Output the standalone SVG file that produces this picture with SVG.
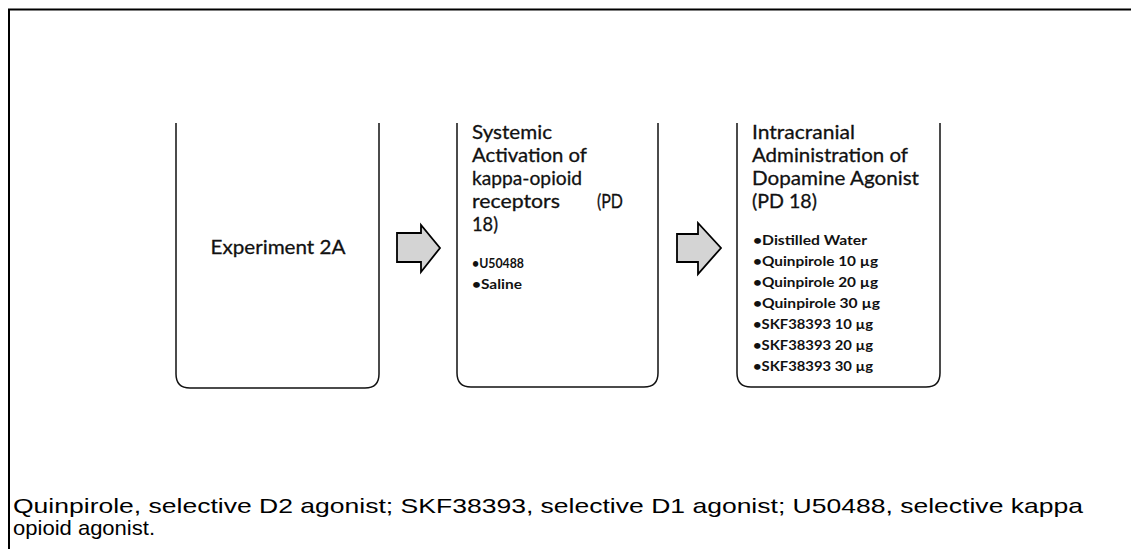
<svg xmlns="http://www.w3.org/2000/svg" width="1131" height="549" viewBox="0 0 1131 549">
<style>
.frame{fill:none;stroke:#000;stroke-width:2}
.box{fill:none;stroke:#111;stroke-width:1.5}
.title{font-family:Lato,"Open Sans",sans-serif;font-size:20px;fill:#111;stroke:#111;stroke-width:0.3}
.item{font-family:Lato,"Open Sans",sans-serif;font-size:13.5px;font-weight:bold;fill:#111}
.arrow{fill:#d4d4d4;stroke:#000;stroke-width:1.8;stroke-linejoin:miter}
.caption{font-family:"Liberation Sans",Arial,sans-serif;font-size:21px;fill:#000}
</style>
<rect width="1131" height="549" fill="#fff"/>
<g id="frame">
<path class="frame" d="M9,549 V9.5 H1131"/>
</g>
<g id="node-exp2a">
<path class="box" d="M176,123 V374 Q176,388 190,388 H365 Q379,388 379,374 V123"/>
<text class="title" x="278" y="254" text-anchor="middle" textLength="135" lengthAdjust="spacingAndGlyphs">Experiment 2A</text>
</g>
<g id="node-systemic">
<path class="box" d="M457,123 V373 Q457,387 471,387 H644 Q658,387 658,373 V123"/>
<text class="title" x="472" y="139" textLength="80" lengthAdjust="spacingAndGlyphs">Systemic</text>
<text class="title" x="472" y="162" textLength="115" lengthAdjust="spacingAndGlyphs">Activation of</text>
<text class="title" x="472" y="185" textLength="110" lengthAdjust="spacingAndGlyphs">kappa-opioid</text>
<text class="title" x="472" y="208" textLength="88" lengthAdjust="spacingAndGlyphs">receptors</text>
<text class="title" x="597" y="208" textLength="26" lengthAdjust="spacingAndGlyphs">(PD</text>
<text class="title" x="472" y="231" textLength="26" lengthAdjust="spacingAndGlyphs">18)</text>
<text class="item" x="472" y="268" textLength="52" lengthAdjust="spacingAndGlyphs">•U50488</text>
<text class="item" x="472" y="289" textLength="50" lengthAdjust="spacingAndGlyphs">•Saline</text>
</g>
<g id="node-intracranial">
<path class="box" d="M737,123 V373 Q737,387 751,387 H926 Q940,387 940,373 V123"/>
<text class="title" x="752" y="139" textLength="103" lengthAdjust="spacingAndGlyphs">Intracranial</text>
<text class="title" x="752" y="162" textLength="156" lengthAdjust="spacingAndGlyphs">Administration of</text>
<text class="title" x="752" y="185" textLength="167" lengthAdjust="spacingAndGlyphs">Dopamine Agonist</text>
<text class="title" x="752" y="208" textLength="65" lengthAdjust="spacingAndGlyphs">(PD 18)</text>
<text class="item" x="753" y="245" textLength="114" lengthAdjust="spacingAndGlyphs">•Distilled Water</text>
<text class="item" x="753" y="266" textLength="125" lengthAdjust="spacingAndGlyphs">•Quinpirole 10 µg</text>
<text class="item" x="753" y="287" textLength="125" lengthAdjust="spacingAndGlyphs">•Quinpirole 20 µg</text>
<text class="item" x="753" y="308" textLength="127" lengthAdjust="spacingAndGlyphs">•Quinpirole 30 µg</text>
<text class="item" x="753" y="329" textLength="120" lengthAdjust="spacingAndGlyphs">•SKF38393 10 µg</text>
<text class="item" x="753" y="350" textLength="120" lengthAdjust="spacingAndGlyphs">•SKF38393 20 µg</text>
<text class="item" x="753" y="371" textLength="120" lengthAdjust="spacingAndGlyphs">•SKF38393 30 µg</text>
</g>
<g id="connectors">
<path class="arrow" d="M397,233 H421 V225 L440,248 L421,272 V262 H397 Z"/>
<path class="arrow" d="M677,234 H698 V223 L721,248 L698,274 V262 H677 Z"/>
</g>
<g id="caption">
<text class="caption" x="13" y="513" textLength="1070" lengthAdjust="spacingAndGlyphs">Quinpirole, selective D2 agonist; SKF38393, selective D1 agonist; U50488, selective kappa</text>
<text class="caption" x="13" y="535" textLength="142" lengthAdjust="spacingAndGlyphs">opioid agonist.</text>
</g>
</svg>
